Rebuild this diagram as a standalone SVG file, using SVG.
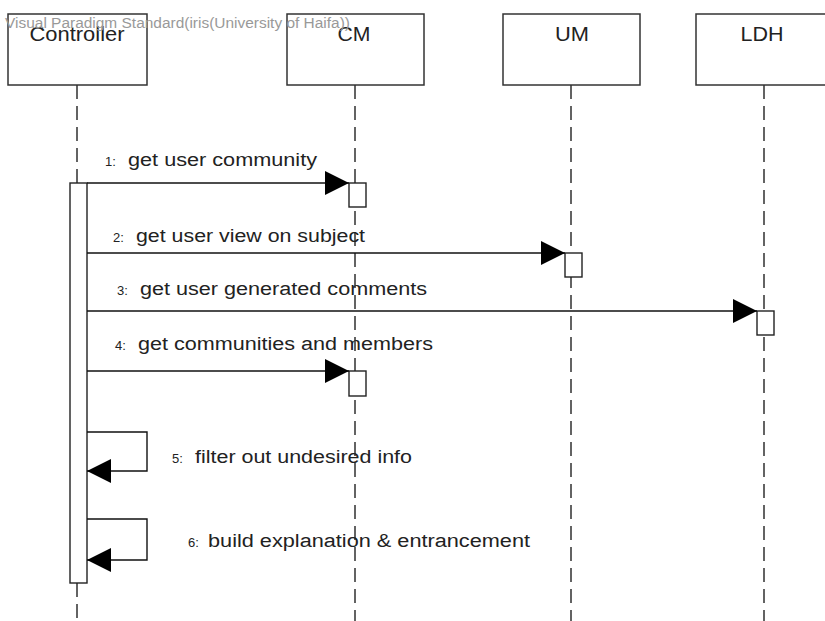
<svg xmlns="http://www.w3.org/2000/svg" width="825" height="621" viewBox="0 0 825 621">
<style>
.box{fill:#fff;stroke:#333;stroke-width:1.5}
.hdr{font-family:"Liberation Sans",Arial,sans-serif;font-size:20px;fill:#222;text-anchor:middle}
.life{stroke:#222;stroke-width:1.4;stroke-dasharray:14 7;fill:none}
.act{fill:#fff;stroke:#222;stroke-width:1.4}
.msg{stroke:#111;stroke-width:1.4;fill:none}
.lbl{font-family:"Liberation Sans",Arial,sans-serif;font-size:18px;fill:#222}
.num{font-size:13px}
.wm{font-family:"Liberation Sans",Arial,sans-serif;font-size:14px;fill:#999}
</style>
<defs>
<marker id="arr" viewBox="0 0 24 24" refX="24" refY="12" markerWidth="24" markerHeight="24" markerUnits="userSpaceOnUse" orient="auto">
<path d="M0,0 L24,12 L0,24 Z" fill="#000"/>
</marker>
</defs>
<rect width="825" height="621" fill="#fff"/>
<g id="lifelines">
<path class="life" d="M77,85 V183 M77,583 V621"/>
<path class="life" d="M355,85 V621"/>
<path class="life" d="M571,85 V621"/>
<path class="life" d="M764,85 V621"/>
</g>
<g id="Controller">
<rect class="box" x="8" y="14" width="139" height="71"/>
<text class="hdr" x="77" y="41" textLength="95" lengthAdjust="spacingAndGlyphs">Controller</text>
<rect class="act" x="70" y="183" width="17" height="400"/>
</g>
<g id="CM">
<rect class="box" x="287" y="14" width="137" height="71"/>
<text class="hdr" x="354" y="41" textLength="33" lengthAdjust="spacingAndGlyphs">CM</text>
<rect class="act" x="349" y="183" width="17" height="24"/>
<rect class="act" x="349" y="371" width="17" height="25"/>
</g>
<g id="UM">
<rect class="box" x="503" y="14" width="137" height="71"/>
<text class="hdr" x="572" y="41" textLength="34" lengthAdjust="spacingAndGlyphs">UM</text>
<rect class="act" x="565" y="253" width="17" height="24"/>
</g>
<g id="LDH">
<rect class="box" x="696" y="14" width="137" height="71"/>
<text class="hdr" x="762" y="41" textLength="43" lengthAdjust="spacingAndGlyphs">LDH</text>
<rect class="act" x="757" y="311" width="17" height="24"/>
</g>
<g id="connectors">
<path class="msg" d="M87,183 H349" marker-end="url(#arr)"/>
<path class="msg" d="M87,253 H565" marker-end="url(#arr)"/>
<path class="msg" d="M87,311 H757" marker-end="url(#arr)"/>
<path class="msg" d="M87,371 H349" marker-end="url(#arr)"/>
<path class="msg" d="M87,432 H147 V471 H87" marker-end="url(#arr)"/>
<path class="msg" d="M87,519 H147 V560 H87" marker-end="url(#arr)"/>
</g>
<g id="labels">
<text class="lbl" x="105" y="166"><tspan class="num">1:</tspan><tspan x="128" textLength="189" lengthAdjust="spacingAndGlyphs">get user community</tspan></text>
<text class="lbl" x="113" y="242"><tspan class="num">2:</tspan><tspan x="136" textLength="229" lengthAdjust="spacingAndGlyphs">get user view on subject</tspan></text>
<text class="lbl" x="117" y="295"><tspan class="num">3:</tspan><tspan x="140" textLength="287" lengthAdjust="spacingAndGlyphs">get user generated comments</tspan></text>
<text class="lbl" x="115" y="350"><tspan class="num">4:</tspan><tspan x="138" textLength="295" lengthAdjust="spacingAndGlyphs">get communities and members</tspan></text>
<text class="lbl" x="172" y="463"><tspan class="num">5:</tspan><tspan x="195" textLength="217" lengthAdjust="spacingAndGlyphs">filter out undesired info</tspan></text>
<text class="lbl" x="188" y="547"><tspan class="num">6:</tspan><tspan x="208" textLength="322" lengthAdjust="spacingAndGlyphs">build explanation &amp; entrancement</tspan></text>
</g>
<text class="wm" x="5" y="28" textLength="345" lengthAdjust="spacingAndGlyphs">Visual Paradigm Standard(iris(University of Haifa))</text>
</svg>
